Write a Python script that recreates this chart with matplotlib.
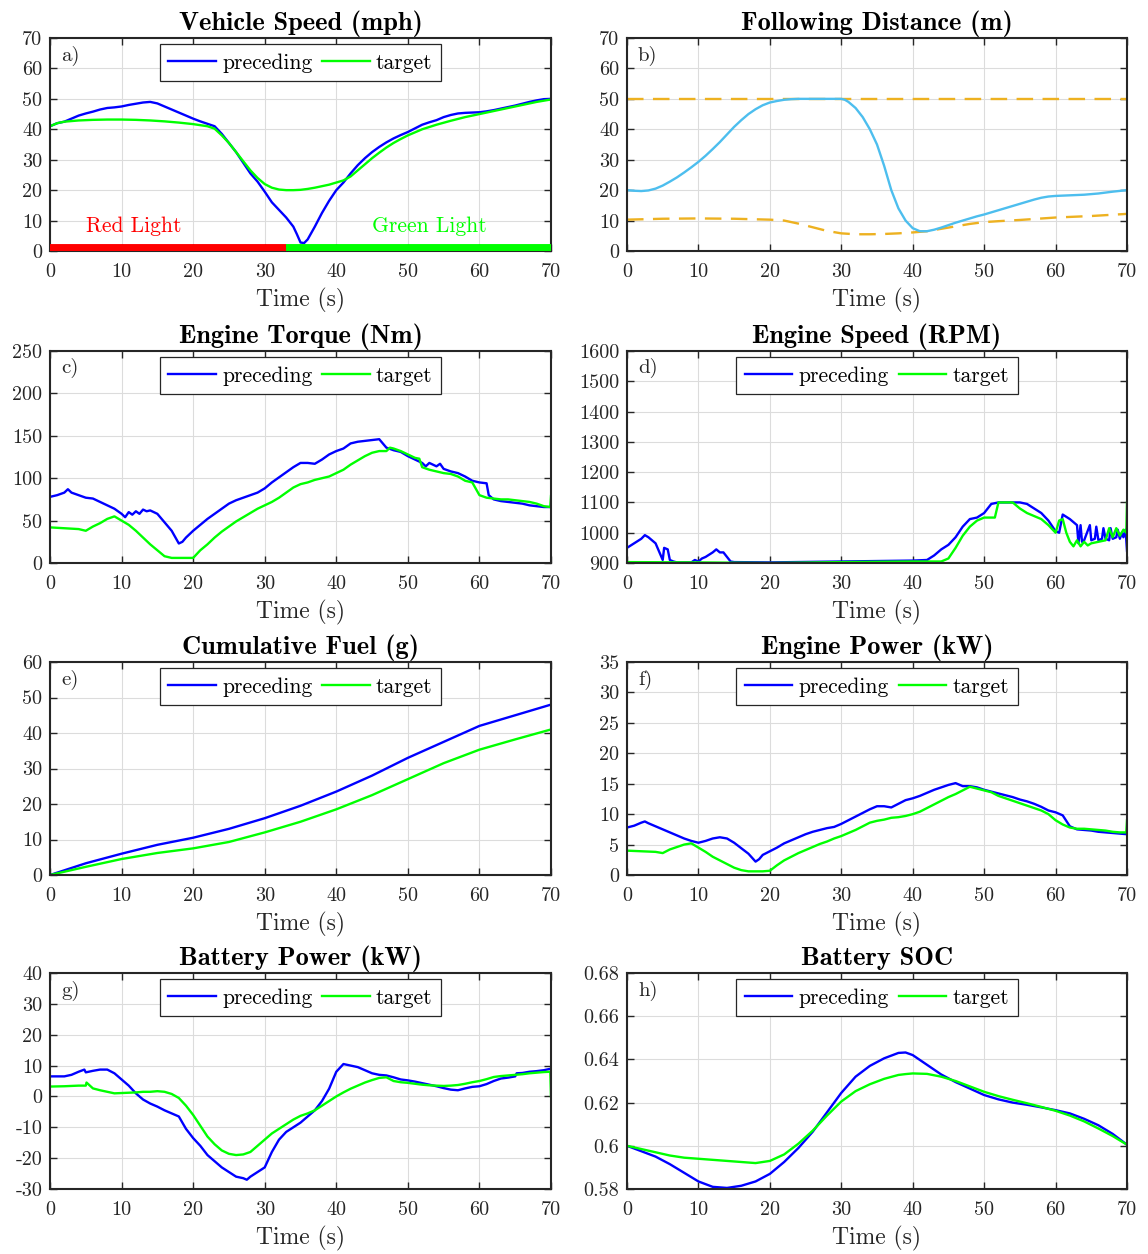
import numpy as np
import matplotlib
matplotlib.use("Agg")
import matplotlib.pyplot as plt
from matplotlib.ticker import FuncFormatter, MultipleLocator

# ---------------- data ----------------
time_label = "Time (s)"
legend_labels = ["preceding", "target"]
xticks = [0, 10, 20, 30, 40, 50, 60, 70]

# a) vehicle speed (mph)
spd_t_pre = [0, 1, 2, 3, 4, 5, 6, 7, 8, 9, 10, 11, 12, 13, 14, 15, 16, 17, 18, 19, 20, 21, 22, 23, 24, 25, 26, 27, 28, 29,
             30, 31, 32, 33, 34, 34.5, 35, 35.5, 36, 37, 38, 39, 40, 41, 42, 43, 44, 45, 46, 47, 48, 49, 50, 51, 52, 53,
             54, 55, 56, 57, 58, 59, 60, 61, 62, 63, 64, 65, 66, 67, 68, 69, 70]
spd_pre = [41, 42, 42.5, 43.5, 44.5, 45.2, 45.8, 46.5, 47, 47.2, 47.5, 48, 48.4, 48.8, 49, 48.5, 47.5, 46.5, 45.5, 44.5,
           43.5, 42.6, 41.8, 41, 38.5, 35.5, 32.5, 29, 25.5, 22.8, 19.5, 16, 13.5, 11, 8, 5.5, 2.8, 2.6, 3.8, 8, 12.5,
           16.5, 20, 22.5, 25.5, 28.2, 30.5, 32.5, 34.2, 35.7, 37, 38.1, 39.1, 40.3, 41.5, 42.3, 43, 44, 44.7, 45.2,
           45.4, 45.5, 45.6, 45.9, 46.3, 46.8, 47.3, 47.8, 48.4, 49, 49.5, 49.9, 50]
spd_t_tgt = [0, 1, 2, 4, 6, 8, 10, 12, 14, 16, 18, 20, 22, 23, 24, 25, 26, 27, 28, 29, 30, 31, 32, 33, 34, 35, 36, 37, 38,
             39, 40, 41, 42, 43, 44, 45, 46, 47, 48, 49, 50, 52, 54, 56, 58, 60, 62, 64, 66, 68, 70]
spd_tgt = [41, 42, 42.5, 42.9, 43.1, 43.2, 43.2, 43.1, 42.9, 42.6, 42.2, 41.7, 41, 40.2, 38, 35.5, 32.5, 29.5, 26.5, 24,
           22, 20.8, 20.2, 20, 20, 20.1, 20.4, 20.8, 21.3, 21.8, 22.5, 23.2, 24.5, 26.5, 28.5, 30.5, 32.3, 34, 35.5,
           36.8, 38, 40, 41.5, 42.8, 44, 45, 46, 47, 48, 49, 49.8]
red_phase = [0, 33]
green_phase = [33, 70]

# b) following distance (m)
gap_t = [0, 1, 2, 3, 4, 5, 6, 7, 8, 9, 10, 11, 12, 13, 14, 15, 16, 17, 18, 19, 20, 21, 22, 23, 24, 30, 30.5, 31, 32, 33,
         34, 35, 36, 37, 38, 39, 40, 41, 42, 43, 44, 45, 46, 47, 48, 49, 50, 51, 52, 53, 54, 55, 56, 57, 58, 59, 60, 62,
         64, 66, 68, 70]
gap = [20, 19.8, 19.7, 19.9, 20.5, 21.5, 22.8, 24.2, 25.8, 27.5, 29.3, 31.3, 33.5, 35.8, 38.3, 40.8, 43, 45, 46.6, 47.9,
       48.8, 49.3, 49.7, 49.9, 50, 50, 49.7, 49, 47, 44, 40, 35, 28, 20, 14, 10, 7.5, 6.5, 6.5, 7, 7.7, 8.5, 9.3, 10,
       10.7, 11.4, 12, 12.7, 13.4, 14.1, 14.8, 15.5, 16.2, 16.9, 17.5, 17.9, 18.1, 18.3, 18.5, 18.9, 19.5, 20]
gap_min_t = [0, 5, 10, 15, 20, 22, 24, 26, 28, 30, 32, 34, 36, 38, 40, 42, 44, 46, 48, 50, 52, 55, 60, 65, 70]
gap_min = [10.3, 10.6, 10.7, 10.6, 10.3, 10, 9, 7.8, 6.6, 5.8, 5.5, 5.5, 5.6, 5.8, 6.1, 6.5, 7.3, 8.1, 8.9, 9.5, 9.8,
           10.2, 11, 11.5, 12.2]
gap_max_t = [0, 70]
gap_max = [50, 50]

# c) engine torque (Nm)
trq_t_pre = [0, 1, 2, 2.5, 3, 4, 5, 6, 7, 8, 9, 10, 10.5, 11, 11.5, 12, 12.5, 13, 13.5, 14, 15, 16, 17, 18, 18.5, 19, 20,
             21, 22, 23, 24, 25, 26, 27, 28, 29, 30, 31, 32, 33, 34, 35, 36, 37, 38, 39, 40, 41, 42, 43, 44, 45, 46,
             47, 48, 49, 50, 51, 52, 52.5, 53, 54, 54.5, 55, 56, 57, 58, 59, 60, 61, 61.3, 62, 63, 64, 65, 66, 67, 68,
             69, 70]
trq_pre = [78, 80, 83, 87, 83, 80, 77, 76, 72, 68, 64, 58, 54, 60, 57, 61, 58, 63, 61, 62, 58, 48, 38, 23, 25, 30, 38, 45,
           52, 58, 64, 70, 74, 77, 80, 83, 88, 95, 101, 107, 113, 118, 118, 117, 122, 128, 132, 135, 141, 143, 144,
           145, 146, 136, 133, 131, 126, 122, 118, 114, 118, 114, 117, 111, 108, 106, 102, 97, 95, 94, 80, 75, 73,
           72, 71, 70, 68, 67, 66, 66]
trq_t_tgt = [0, 2, 4, 5, 6, 7, 8, 9, 10, 11, 12, 13, 14, 15, 16, 17, 18, 19, 20, 21, 22, 23, 24, 25, 26, 27, 28, 29, 30,
             31, 32, 33, 34, 35, 36, 37, 38, 39, 40, 41, 42, 43, 44, 45, 46, 47, 47.5, 48, 49, 50, 51, 51.6, 52, 53,
             54, 55, 56, 57, 58, 59, 60, 61, 62, 63, 64, 65, 66, 67, 68, 69, 69.9, 70]
trq_tgt = [42, 41, 40, 38, 43, 47, 52, 55, 50, 45, 38, 30, 22, 15, 8, 6, 6, 6, 6, 15, 22, 30, 37, 43, 49, 54, 59, 64, 68,
           72, 77, 83, 89, 93, 95, 98, 100, 102, 106, 110, 116, 121, 126, 130, 132, 132, 136, 135, 132, 128, 124,
           123, 113, 110, 108, 106, 105, 102, 97, 95, 80, 77, 76, 75, 75, 74, 73, 72, 70, 67, 66, 79]

# d) engine speed (RPM)
rpm_t_pre = [0, 1, 2, 2.5, 3, 4, 5, 5.2, 5.7, 6, 6.5, 7, 9, 9.5, 10, 10.5, 11, 12, 12.5, 13, 13.5, 14, 14.5, 15, 20, 30,
             40, 42, 43, 44, 45, 46, 47, 48, 49, 50, 51, 52, 55, 56, 57, 58, 59, 60, 60.5, 61, 62, 63, 63.2, 63.5, 63.7,
             64, 64.8, 65, 65.5, 65.7, 66, 66.5, 66.7, 67, 67.5, 67.7, 68, 68.5, 68.7, 69, 69.3, 69.5, 69.8, 70]
rpm_pre = [950, 965, 980, 992, 985, 965, 910, 950, 945, 910, 905, 902, 902, 910, 905, 915, 920, 935, 945, 935, 935, 920,
           905, 903, 902, 905, 908, 910, 925, 945, 960, 985, 1020, 1045, 1050, 1065, 1095, 1100, 1100, 1095, 1080,
           1065, 1040, 1005, 1000, 1060, 1045, 1025, 965, 1025, 970, 975, 1025, 975, 980, 1020, 975, 980, 1015, 980,
           975, 1015, 980, 985, 1010, 980, 1000, 985, 1010, 940]
rpm_t_tgt = [0, 10, 20, 30, 40, 44, 45, 46, 47, 48, 49, 50, 51.5, 52, 54, 55, 56, 57, 58, 59, 60, 60.5, 61, 61.5, 62,
             62.5, 63, 63.5, 64, 64.5, 65, 66, 67, 67.5, 68, 68.5, 69, 69.5, 69.9, 70]
rpm_tgt = [903, 902, 900, 903, 905, 905, 915, 950, 990, 1020, 1040, 1050, 1050, 1100, 1100, 1080, 1065, 1055, 1045,
           1025, 1000, 1040, 1045, 1000, 970, 955, 975, 955, 970, 958, 965, 970, 975, 1015, 985, 1015, 990, 1010,
           1000, 1100]

# e) cumulative fuel (g)
fuel_t = [0, 5, 10, 15, 20, 25, 30, 35, 40, 45, 50, 55, 60, 65, 70]
fuel_pre = [0, 3.3, 6, 8.5, 10.5, 13, 16, 19.5, 23.5, 28, 33, 37.5, 42, 45, 48]
fuel_tgt = [0, 2.3, 4.5, 6.2, 7.5, 9.3, 12, 15, 18.5, 22.5, 27, 31.5, 35.3, 38.2, 41]

# f) engine power (kW)
pw_t_pre = [0, 1, 2, 2.5, 3, 4, 5, 6, 7, 8, 9, 10, 11, 12, 13, 14, 15, 16, 17, 18, 18.5, 19, 20, 21, 22, 23, 24, 25, 26,
            27, 28, 29, 30, 31, 32, 33, 34, 35, 36, 37, 38, 39, 40, 41, 42, 43, 44, 45, 46, 47, 48, 49, 50, 51, 52, 53,
            54, 55, 56, 57, 58, 59, 60, 61, 62, 63, 64, 65, 66, 67, 68, 69, 70]
pw_pre = [7.8, 8.1, 8.6, 8.8, 8.5, 8, 7.5, 7, 6.5, 6, 5.6, 5.3, 5.6, 6, 6.2, 6, 5.3, 4.4, 3.5, 2.2, 2.6, 3.3, 3.9, 4.5,
          5.2, 5.7, 6.2, 6.7, 7.1, 7.4, 7.7, 7.9, 8.4, 9, 9.6, 10.2, 10.8, 11.3, 11.3, 11.1, 11.7, 12.3, 12.6, 13, 13.5,
          14, 14.4, 14.8, 15.1, 14.6, 14.6, 14.4, 14, 13.7, 13.4, 13.1, 12.8, 12.4, 12.1, 11.7, 11.2, 10.6, 10.3, 9.8,
          8, 7.5, 7.4, 7.3, 7.1, 7, 6.9, 6.8, 6.7]
pw_t_tgt = [0, 2, 4, 5, 6, 7, 8, 9, 10, 11, 12, 13, 14, 15, 16, 17, 18, 19, 20, 21, 22, 23, 24, 25, 26, 27, 28, 29, 30,
            31, 32, 33, 34, 35, 36, 37, 38, 39, 40, 41, 42, 43, 44, 45, 46, 47, 48, 49, 50, 51, 52, 53, 54, 55, 56, 57,
            58, 59, 60, 61, 62, 63, 64, 65, 66, 67, 68, 69, 69.9, 70]
pw_tgt = [4, 3.9, 3.8, 3.6, 4.2, 4.6, 5, 5.2, 4.5, 3.8, 3, 2.4, 1.8, 1.2, 0.8, 0.6, 0.6, 0.6, 0.7, 1.6, 2.4, 3, 3.6, 4.1,
          4.6, 5.1, 5.5, 6, 6.4, 6.9, 7.4, 8, 8.6, 8.9, 9.1, 9.4, 9.5, 9.7, 10, 10.4, 11, 11.6, 12.2, 12.8, 13.3, 13.9,
          14.5, 14.2, 13.9, 13.6, 13, 12.6, 12.2, 11.8, 11.4, 11, 10.6, 10, 9, 8.3, 7.8, 7.6, 7.6, 7.5, 7.4, 7.3, 7.1,
          7, 7, 9]

# g) battery power (kW)
bp_t_pre = [0, 1, 2, 3, 4, 4.8, 5, 6, 7, 8, 9, 10, 11, 12, 13, 14, 15, 16, 17, 18, 19, 20, 21, 22, 23, 24, 25, 26, 27,
            27.5, 28, 29, 30, 31, 32, 33, 34, 35, 36, 37, 38, 39, 40, 41, 42, 43, 44, 45, 46, 47, 48, 49, 50, 51, 52, 53,
            54, 55, 56, 57, 58, 59, 60, 61, 62, 63, 64, 65, 65.2, 66, 67, 68, 69, 70]
bp_pre = [6.5, 6.5, 6.5, 7, 8, 8.7, 7.8, 8.3, 8.7, 8.7, 7.5, 5.5, 3.5, 1, -1, -2.3, -3.3, -4.5, -5.5, -6.5, -10.5, -13.5,
          -16, -19, -21, -23, -24.5, -26, -26.5, -27, -26, -24.5, -23, -18, -14, -11.5, -10, -8.5, -6.5, -4.5, -1.5,
          2.5, 8, 10.5, 10, 9.5, 8.5, 7.5, 7, 6.8, 6.2, 5.5, 5.2, 4.8, 4.3, 3.8, 3.3, 2.7, 2.2, 2, 2.6, 3.1, 3.3, 4, 5,
          5.8, 6.1, 6.5, 7.5, 7.6, 8, 8.2, 8.5, 9]
bp_t_tgt = [0, 2, 4, 5, 5.1, 6, 7, 8, 9, 10, 11, 12, 13, 14, 15, 16, 17, 18, 19, 20, 21, 22, 23, 24, 25, 26, 27, 28, 29,
            30, 31, 32, 33, 34, 35, 36, 37, 38, 39, 40, 41, 42, 43, 44, 45, 46, 47, 48, 49, 50, 51, 52, 53, 54, 55, 56,
            57, 58, 59, 60, 61, 62, 63, 64, 65, 66, 67, 68, 69, 69.9, 70]
bp_tgt = [3.2, 3.3, 3.5, 3.5, 4.5, 2.6, 2, 1.5, 1, 1.1, 1.2, 1.3, 1.5, 1.5, 1.7, 1.5, 0.8, -0.5, -3, -6, -9.5, -13,
          -15.5, -17.5, -18.6, -19, -18.8, -18, -16, -14, -12, -10.5, -9, -7.5, -6.3, -5.5, -4.5, -3, -1.5, 0, 1.3,
          2.5, 3.5, 4.5, 5.3, 6, 6.2, 5, 4.6, 4.4, 4.1, 3.8, 3.6, 3.5, 3.4, 3.5, 3.7, 4.1, 4.6, 5, 5.6, 6.3, 6.6, 6.8,
          7, 7.2, 7.5, 7.7, 7.9, 8, 0]

# h) battery SOC
soc_t = [0, 2, 4, 6, 8, 10, 12, 14, 16, 18, 20, 22, 24, 26, 28, 30, 32, 34, 36, 38, 39, 40, 42, 44, 46, 48, 50, 52, 54,
         56, 58, 60, 62, 64, 66, 68, 70]
soc_pre = [0.600, 0.5975, 0.595, 0.5915, 0.5875, 0.5835, 0.581, 0.5805, 0.5815, 0.5835, 0.587, 0.5925, 0.599, 0.6065,
           0.6155, 0.6245, 0.632, 0.637, 0.6405, 0.643, 0.6432, 0.642, 0.6375, 0.633, 0.6295, 0.6265, 0.6235, 0.6215,
           0.620, 0.619, 0.6178, 0.6165, 0.615, 0.6125, 0.6095, 0.6055, 0.6005]
soc_tgt = [0.600, 0.5985, 0.597, 0.5955, 0.5945, 0.594, 0.5935, 0.593, 0.5925, 0.592, 0.593, 0.596, 0.601, 0.607, 0.614,
           0.6205, 0.6253, 0.6285, 0.631, 0.6328, 0.6332, 0.6335, 0.6333, 0.632, 0.630, 0.6275, 0.625, 0.623, 0.6213,
           0.6197, 0.618, 0.6162, 0.614, 0.6113, 0.608, 0.6045, 0.6005]

# ---------------- style ----------------
plt.rcParams.update({
    "font.family": "cmr10",
    "mathtext.fontset": "cm",
    "axes.unicode_minus": False,
    "axes.formatter.use_mathtext": False,
})

BLUE = "#0000FF"
GREEN = "#00FF00"
LBLUE = "#4DBEEE"
ORANGE = "#EDB120"
AXC = "#262626"

W, H = 1148, 1254
fig = plt.figure(figsize=(W / 100, H / 100), dpi=100)

lefts = [50, 627]
widths = [501, 500]
tops = [38, 351, 662, 973]
heights = [213, 212, 213, 216]


def make_ax(r, c):
    l = lefts[c] / W
    b = 1 - (tops[r] + heights[r]) / H
    return fig.add_axes([l, b, widths[c] / W, heights[r] / H])


def style(ax, title, letter, ylim, ystep):
    ax.set_xlim(0, 70)
    ax.set_ylim(*ylim)
    ax.set_xticks(xticks)
    ax.yaxis.set_major_locator(MultipleLocator(ystep))
    ax.yaxis.set_major_formatter(FuncFormatter(lambda v, p: "%g" % round(v, 6)))
    ax.tick_params(direction="in", top=True, right=True, length=5, width=1.0,
                   labelsize=14.5, colors=AXC)
    ax.tick_params(axis="x", pad=9)
    ax.tick_params(axis="y", pad=5.5)
    for s in ax.spines.values():
        s.set_linewidth(1.5)
        s.set_color(AXC)
    ax.grid(True, color="#dcdcdc", linewidth=0.8)
    ax.set_axisbelow(True)
    ax.set_xlabel(time_label, fontsize=17, color=AXC, labelpad=5)
    ax.set_title(title, fontsize=19, family="cmb10", color="black", pad=6)
    ax.text(0.022, 0.965, letter, transform=ax.transAxes, fontsize=15, va="top", ha="left", color=AXC)


def legend(ax):
    ax.legend(legend_labels, loc="upper center", ncol=2, fontsize=15.5, frameon=True, fancybox=False,
              framealpha=1, edgecolor=AXC, handlelength=2.2, handletextpad=0.3, columnspacing=0.45,
              borderpad=0.4, borderaxespad=0.3)
    ax.get_legend().get_frame().set_linewidth(0.9)


LW = 1.7
DASH = (0, (7, 4))

# a
ax = make_ax(0, 0)
ax.plot(spd_t_pre, spd_pre, color=BLUE, lw=LW)
ax.plot(spd_t_tgt, spd_tgt, color=GREEN, lw=LW)
legend(ax)
ax.plot(red_phase, [0, 0], color="#FF0000", lw=10, solid_capstyle="butt", zorder=3)
ax.plot(green_phase, [0, 0], color=GREEN, lw=10, solid_capstyle="butt", zorder=3)
ax.text(5, 8, "Red Light", color="#FF0000", fontsize=15.5, va="center")
ax.text(45, 8, "Green Light", color=GREEN, fontsize=15.5, va="center")
style(ax, "Vehicle Speed (mph)", "a)", (0, 70), 10)

# b
ax = make_ax(0, 1)
ax.plot(gap_max_t, gap_max, color=ORANGE, lw=LW, ls=DASH)
ax.plot(gap_min_t, gap_min, color=ORANGE, lw=LW, ls=DASH)
ax.plot(gap_t, gap, color=LBLUE, lw=LW)
style(ax, "Following Distance (m)", "b)", (0, 70), 10)

# c
ax = make_ax(1, 0)
ax.plot(trq_t_pre, trq_pre, color=BLUE, lw=LW)
ax.plot(trq_t_tgt, trq_tgt, color=GREEN, lw=LW)
legend(ax)
style(ax, "Engine Torque (Nm)", "c)", (0, 250), 50)

# d
ax = make_ax(1, 1)
ax.plot(rpm_t_pre, rpm_pre, color=BLUE, lw=LW)
ax.plot(rpm_t_tgt, rpm_tgt, color=GREEN, lw=LW)
legend(ax)
style(ax, "Engine Speed (RPM)", "d)", (900, 1600), 100)

# e
ax = make_ax(2, 0)
ax.plot(fuel_t, fuel_pre, color=BLUE, lw=LW)
ax.plot(fuel_t, fuel_tgt, color=GREEN, lw=LW)
legend(ax)
style(ax, "Cumulative Fuel (g)", "e)", (0, 60), 10)

# f
ax = make_ax(2, 1)
ax.plot(pw_t_pre, pw_pre, color=BLUE, lw=LW)
ax.plot(pw_t_tgt, pw_tgt, color=GREEN, lw=LW)
legend(ax)
style(ax, "Engine Power (kW)", "f)", (0, 35), 5)

# g
ax = make_ax(3, 0)
ax.plot(bp_t_pre, bp_pre, color=BLUE, lw=LW)
ax.plot(bp_t_tgt, bp_tgt, color=GREEN, lw=LW)
legend(ax)
style(ax, "Battery Power (kW)", "g)", (-30, 40), 10)

# h
ax = make_ax(3, 1)
ax.plot(soc_t, soc_pre, color=BLUE, lw=LW)
ax.plot(soc_t, soc_tgt, color=GREEN, lw=LW)
legend(ax)
style(ax, "Battery SOC", "h)", (0.58, 0.68), 0.02)

fig.savefig("out.png", dpi=100)
